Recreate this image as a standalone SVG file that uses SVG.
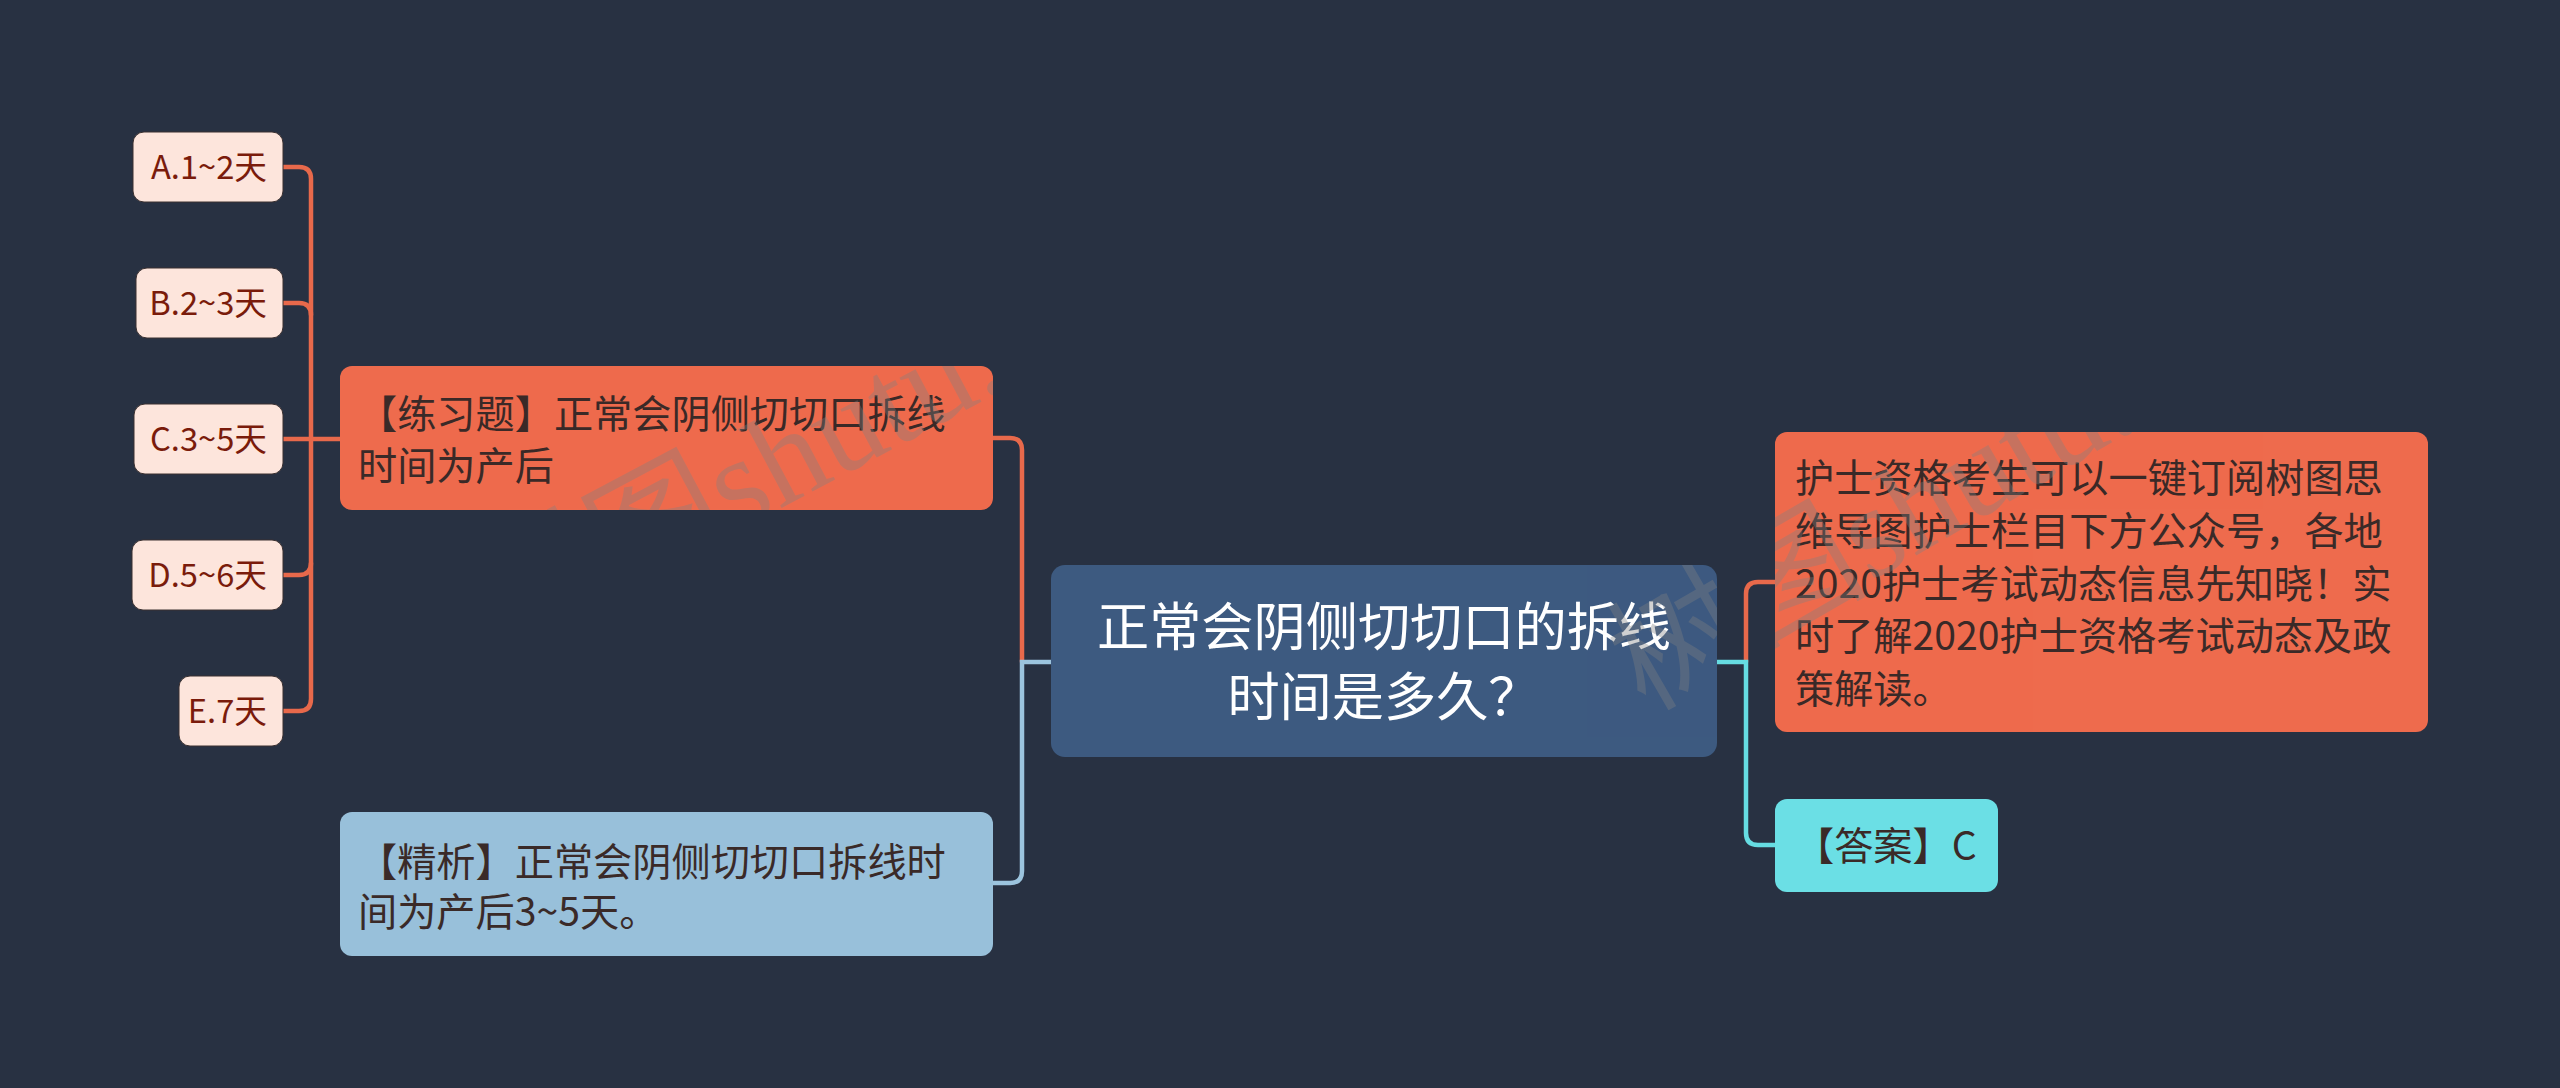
<svg xmlns="http://www.w3.org/2000/svg" width="2560" height="1088" viewBox="0 0 2560 1088">
<style>
text{font-family:"Noto Sans CJK SC","Noto Sans",sans-serif}
.opt rect{fill:#FDE5DC;stroke:#3a3030;stroke-width:1}
.opt text{fill:#7A1B0B;font-size:32.7px;text-anchor:end}
.big text{font-size:39.2px;fill:#3A2A28}
.conn{fill:none;stroke-width:4.5;stroke-linecap:round}
.or{stroke:#E8694B}
.bl{stroke:#9CC4DE}
.cy{stroke:#66DCE2}
.wm{font-family:"Liberation Serif","Noto Sans CJK SC",serif;font-size:130px;fill:#808080;opacity:0.36}
</style>
<defs>
<clipPath id="clipL"><rect x="340" y="366" width="653" height="144" rx="12"/></clipPath>
<clipPath id="clipR"><rect x="1051" y="565" width="666" height="192" rx="14"/><rect x="1775" y="432" width="653" height="300" rx="12"/></clipPath>
</defs>
<rect width="2560" height="1088" fill="#283142"/>
<g id="connectors">
<path class="conn or" d="M283,167 H299 Q311,167 311,179 V699 Q311,711 299,711 H283"/>
<path class="conn or" d="M283,303 H299 Q311,303 311,315"/>
<path class="conn or" d="M283,575 H299 Q311,575 311,563"/>
<path class="conn or" d="M283,439 H340"/>
<path class="conn or" d="M993,438 H1010 Q1022,438 1022,450 V662"/>
<path class="conn bl" d="M993,883 H1010 Q1022,883 1022,871 V662 H1051"/>
<path class="conn or" d="M1746,662 V594 Q1746,582 1758,582 H1775"/>
<path class="conn cy" d="M1717,662 H1746 V833 Q1746,845 1758,845 H1775"/>
</g>
<g id="node-a" class="opt"><rect x="133" y="132" width="150" height="70" rx="11"/><text x="267" y="179">A.1~2天</text></g>
<g id="node-b" class="opt"><rect x="136" y="268" width="147" height="70" rx="11"/><text x="267" y="315">B.2~3天</text></g>
<g id="node-c" class="opt"><rect x="134" y="404" width="149" height="70" rx="11"/><text x="267" y="451">C.3~5天</text></g>
<g id="node-d" class="opt"><rect x="132" y="540" width="151" height="70" rx="11"/><text x="267" y="587">D.5~6天</text></g>
<g id="node-e" class="opt"><rect x="179" y="676" width="104" height="70" rx="11"/><text x="267" y="723">E.7天</text></g>
<g id="node-practice" class="big"><rect x="340" y="366" width="653" height="144" rx="12" fill="#EE6B4D"/><text x="358" y="428">【练习题】正常会阴侧切切口拆线</text><text x="358" y="480">时间为产后</text></g>
<g id="node-analysis" class="big"><rect x="340" y="812" width="653" height="144" rx="12" fill="#98C0DA"/><text x="358" y="876" fill="#2E2E2E">【精析】正常会阴侧切切口拆线时</text><text x="358" y="926" fill="#2E2E2E">间为产后3~5天。</text></g>
<g id="node-center"><rect x="1051" y="565" width="666" height="192" rx="14" fill="#3D5A80"/><text x="1384" y="646" font-size="52.2" fill="#FFFFFF" text-anchor="middle">正常会阴侧切切口的拆线</text><text x="1384" y="716" font-size="52.2" fill="#FFFFFF" text-anchor="middle">时间是多久？</text></g>
<g id="node-info" class="big"><rect x="1775" y="432" width="653" height="300" rx="12" fill="#EE6B4D"/><text x="1795" y="492">护士资格考生可以一键订阅树图思</text><text x="1795" y="545">维导图护士栏目下方公众号，各地</text><text x="1795" y="598">2020护士考试动态信息先知晓！实</text><text x="1795" y="650">时了解2020护士资格考试动态及政</text><text x="1795" y="703">策解读。</text></g>
<g id="node-answer" class="big"><rect x="1775" y="799" width="223" height="93" rx="12" fill="#6BDFE5"/><text x="1795" y="860" fill="#2A2F33">【答案】C</text></g>
<g id="watermark">
<g clip-path="url(#clipL)"><text class="wm" transform="translate(505,655) rotate(-28)">树图shutu.cn</text></g>
<g clip-path="url(#clipR)"><text class="wm" transform="translate(1645,712) rotate(-30)">树图shutu.cn</text></g>
</g>
</svg>
